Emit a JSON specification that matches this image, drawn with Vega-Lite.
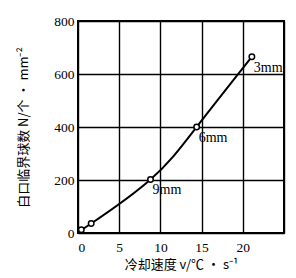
{
  "$schema": "https://vega.github.io/schema/vega-lite/v6.json",
  "autosize": "none",
  "width": 206,
  "height": 212,
  "padding": {"left": 78, "top": 21, "right": 12, "bottom": 45},
  "background": "white",
  "config": {
    "view": {"stroke": "black", "strokeWidth": 2},
    "axis": {
      "grid": true, "gridColor": "black", "gridWidth": 1.4, "gridOpacity": 1,
      "domain": false, "ticks": false, "tickSize": 0,
      "labelFont": "Liberation Serif", "labelFontSize": 13.5, "labelColor": "black",
      "titleFont": "Noto Sans CJK SC", "titleFontSize": 13, "titleFontWeight": "normal", "titleColor": "black"
    }
  },
  "data": {"values": [
    {"v": 0.4, "n": 12, "label": ""},
    {"v": 1.6, "n": 36, "label": ""},
    {"v": 8.8, "n": 202, "label": "9mm"},
    {"v": 14.4, "n": 400, "label": "6mm"},
    {"v": 21.1, "n": 665, "label": "3mm"}
  ]},
  "encoding": {
    "x": {"field": "v", "type": "quantitative",
      "scale": {"domain": [0, 25], "nice": false, "zero": false},
      "axis": {"values": [0, 5, 10, 15, 20, 25], "labelExpr": "datum.value == 25 ? '' : datum.label", "labelPadding": 7, "title": "冷却速度 v/℃ · s⁻¹", "titlePadding": 5}},
    "y": {"field": "n", "type": "quantitative",
      "scale": {"domain": [0, 800], "nice": false},
      "axis": {"values": [0, 200, 400, 600, 800], "labelPadding": 4, "title": "白口临界球数 N/个 · mm⁻²", "titlePadding": 23}}
  },
  "layer": [
    {"mark": {"type": "line", "interpolate": "natural", "color": "black", "strokeWidth": 2}},
    {"mark": {"type": "point", "shape": "circle", "filled": true, "fill": "white", "stroke": "black", "strokeWidth": 1.5, "size": 30, "opacity": 1}},
    {"mark": {"type": "text", "align": "left", "baseline": "alphabetic", "dx": 2, "dy": 15, "font": "Liberation Serif", "fontSize": 14, "color": "black"},
     "encoding": {"text": {"field": "label"}}}
  ]
}
